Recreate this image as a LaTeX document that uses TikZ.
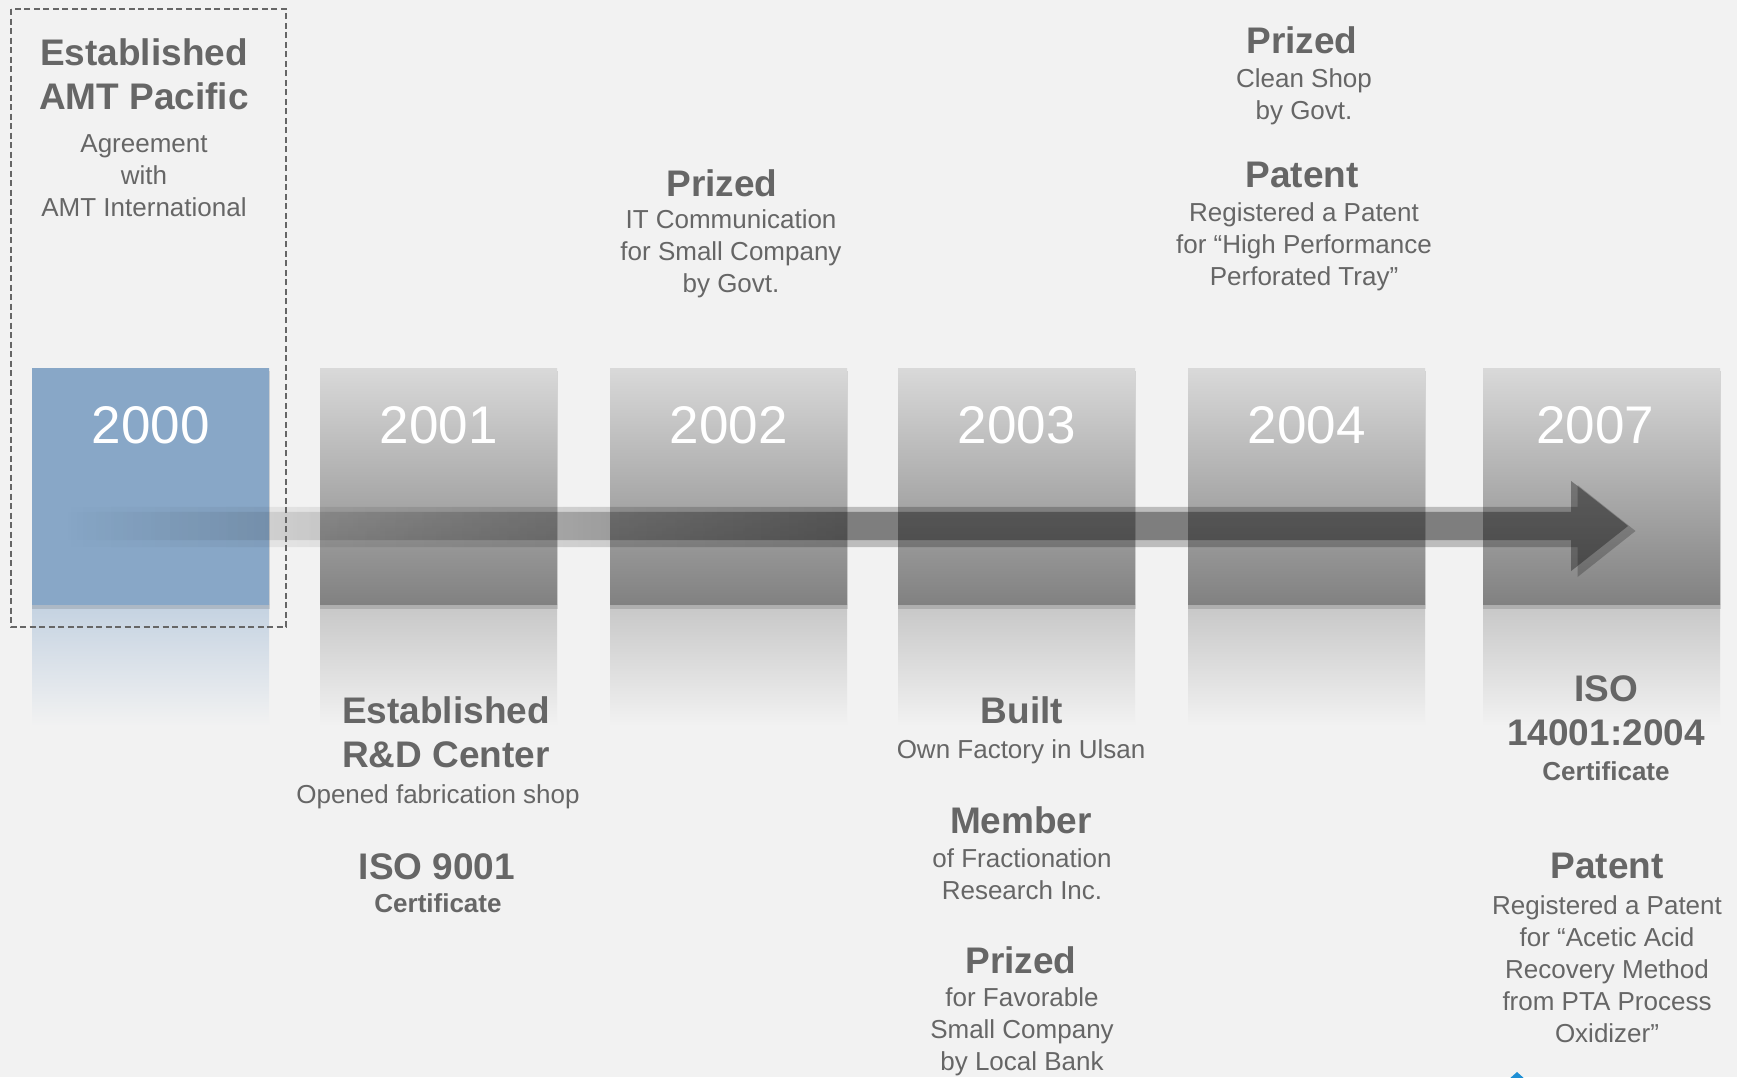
\documentclass[tikz,border=0pt]{standalone}
\usepackage{fontspec}
\setmainfont{Liberation Sans}
\usetikzlibrary{fadings}

\newlength{\du}
\setlength{\du}{1pt}

\definecolor{pagebg}{rgb}{0.949020, 0.949020, 0.949020}
\definecolor{textgray}{rgb}{0.400000, 0.400000, 0.400000}
\definecolor{boxtop}{rgb}{0.850980, 0.850980, 0.850980}
\definecolor{boxbottom}{rgb}{0.505882, 0.505882, 0.505882}
\definecolor{reflgray}{rgb}{0.780392, 0.780392, 0.780392}
\definecolor{boxblue}{rgb}{0.533333, 0.654902, 0.780392}
\definecolor{reflblue}{rgb}{0.768627, 0.823529, 0.882353}
\definecolor{markblue}{rgb}{0.117647, 0.560784, 0.835294}

% arrow fades in from the left, fully there from about half way
\pgfdeclarehorizontalshading{shaftramp}{100bp}{color(0bp)=(black); color(25bp)=(black); color(50bp)=(white); color(100bp)=(white)}
\pgfdeclarefading{shaftfade}{\pgfuseshading{shaftramp}}

\tikzset{
  yearbox/.style={anchor=north west, inner sep=0pt, minimum width=237\du, minimum height=236\du, top color=boxtop, bottom color=boxbottom},
  bluebox/.style={yearbox, fill=boxblue, top color=boxblue, bottom color=boxblue},
  boxshadow/.style={anchor=north west, inner sep=0pt, minimum width=238\du, minimum height=238\du, fill=black, fill opacity=0.12},
  reflbox/.style={anchor=north west, inner sep=0pt, minimum width=237\du, minimum height=122\du, top color=#1, bottom color=pagebg},
  yeartext/.style={anchor=base, inner sep=0pt, text=white, font=\fontsize{53}{60}\selectfont},
  headline/.style={anchor=base, inner sep=0pt, text=textgray, align=center, font=\fontsize{37}{44}\selectfont\bfseries},
  subline/.style={anchor=base, inner sep=0pt, text=textgray, align=center, font=\fontsize{26}{32}\selectfont\bfseries},
  bodyline/.style={anchor=base, inner sep=0pt, text=textgray, align=center, font=\fontsize{26}{31.8}\selectfont},
}

\begin{document}
\begin{tikzpicture}
\pgftransformxscale{1.000000}
\pgftransformyscale{-1.000000}
% page
\fill[pagebg] (0\du,0\du) rectangle (1737\du,1077\du);
\useasboundingbox (0\du,0\du) rectangle (1737\du,1077\du);

% reflections
\node[reflbox=reflblue] (refl2000) at (32\du,604\du) {};
\node[reflbox=reflgray] (refl2001) at (320\du,604\du) {};
\node[reflbox=reflgray] (refl2002) at (610\du,604\du) {};
\node[reflbox=reflgray] (refl2003) at (898\du,604\du) {};
\node[reflbox=reflgray] (refl2004) at (1188\du,604\du) {};
\node[reflbox=reflgray] (refl2007) at (1483\du,604\du) {};

% shadows
\node[boxshadow] (shd2000) at (32\du,371\du) {};
\node[boxshadow] (shd2001) at (320\du,371\du) {};
\node[boxshadow] (shd2002) at (610\du,371\du) {};
\node[boxshadow] (shd2003) at (898\du,371\du) {};
\node[boxshadow] (shd2004) at (1188\du,371\du) {};
\node[boxshadow] (shd2007) at (1483\du,371\du) {};

% year boxes
\node[bluebox] (box2000) at (32\du,368\du) {};
\node[yearbox] (box2001) at (320\du,368\du) {};
\node[yearbox] (box2002) at (610\du,368\du) {};
\node[yearbox] (box2003) at (898\du,368\du) {};
\node[yearbox] (box2004) at (1188\du,368\du) {};
\node[yearbox] (box2007) at (1483\du,368\du) {};

\node[yeartext] (yr2000) at (box2000.north |- 0,443\du) {2000};
\node[yeartext] (yr2001) at (box2001.north |- 0,443\du) {2001};
\node[yeartext] (yr2002) at (box2002.north |- 0,443\du) {2002};
\node[yeartext] (yr2003) at (box2003.north |- 0,443\du) {2003};
\node[yeartext] (yr2004) at (box2004.north |- 0,443\du) {2004};
\node[yeartext] (yr2007) at (1595\du,443\du) {2007};

% arrow, shadow first
\coordinate (shaftstart) at (66\du,526\du);
\coordinate (arrowtip) at (1631\du,526\du);
\fill[black, fill opacity=0.22, path fading=shaftfade] (66\du,507\du)--(1579\du,507\du)--(1579\du,485\du)--(1637\du,531\du)--(1579\du,577\du)--(1579\du,547\du)--(66\du,547\du)--cycle;
\fill[black, fill opacity=0.33, path fading=shaftfade] (shaftstart)--++(0\du,-14\du)--(1574\du,512\du)--(1574\du,481\du)--(arrowtip)--(1574\du,571\du)--(1574\du,540\du)--(66\du,540\du)--cycle;

% frame round the first year
\draw[textgray, line width=2\du, dash pattern=on 6\du off 3.5\du] (11\du,9\du) rectangle (286\du,627\du);

% 2000
\node[headline] (est2000) at (144\du,109\du) {Established\\AMT Pacific};
\node[bodyline] (agr2000) at (144\du,216.5\du) {Agreement\\with\\AMT International};

% 2001
\node[headline] (est2001) at (446\du,767\du) {Established\\R\&D Center};
\node[bodyline] (fab2001) at (438\du,803\du) {Opened fabrication shop};
\node[headline] (iso2001) at (437\du,879\du) {ISO 9001};
\node[subline] (cert2001) at (438\du,912\du) {Certificate};

% 2002
\node[headline] (prz2002) at (722\du,196\du) {Prized};
\node[bodyline] (itc2002) at (731\du,292.5\du) {IT Communication\\for Small Company\\by Govt.};

% 2003
\node[headline] (blt2003) at (1022\du,723\du) {Built};
\node[bodyline] (fct2003) at (1021\du,758\du) {Own Factory in Ulsan};
\node[headline] (mbr2003) at (1021\du,833\du) {Member};
\node[bodyline] (frc2003) at (1022\du,899.5\du) {of Fractionation\\Research Inc.};
\node[headline] (prz2003) at (1021\du,973\du) {Prized};
\node[bodyline] (fav2003) at (1022\du,1070.5\du) {for Favorable\\Small Company\\by Local Bank};

% 2004
\node[headline] (prz2004) at (1302\du,53\du) {Prized};
\node[bodyline] (cln2004) at (1304\du,119.5\du) {Clean Shop\\by Govt.};
\node[headline] (pat2004) at (1302\du,187\du) {Patent};
\node[bodyline] (reg2004) at (1304\du,285.5\du) {Registered a Patent\\for “High Performance\\Perforated Tray”};

% 2007
\node[headline] (iso2007) at (1606\du,745\du) {ISO\\14001:2004};
\node[subline] (cert2007) at (1606\du,780\du) {Certificate};
\node[headline] (pat2007) at (1607\du,878\du) {Patent};
\node[bodyline] (reg2007) at (1607\du,1042\du) {Registered a Patent\\for “Acetic Acid\\Recovery Method\\from PTA Process\\Oxidizer”};

% cut mark at the bottom edge
\fill[markblue] (1517\du,1072\du)--(1526\du,1080\du)--(1508\du,1080\du)--cycle;
\end{tikzpicture}
\end{document}
